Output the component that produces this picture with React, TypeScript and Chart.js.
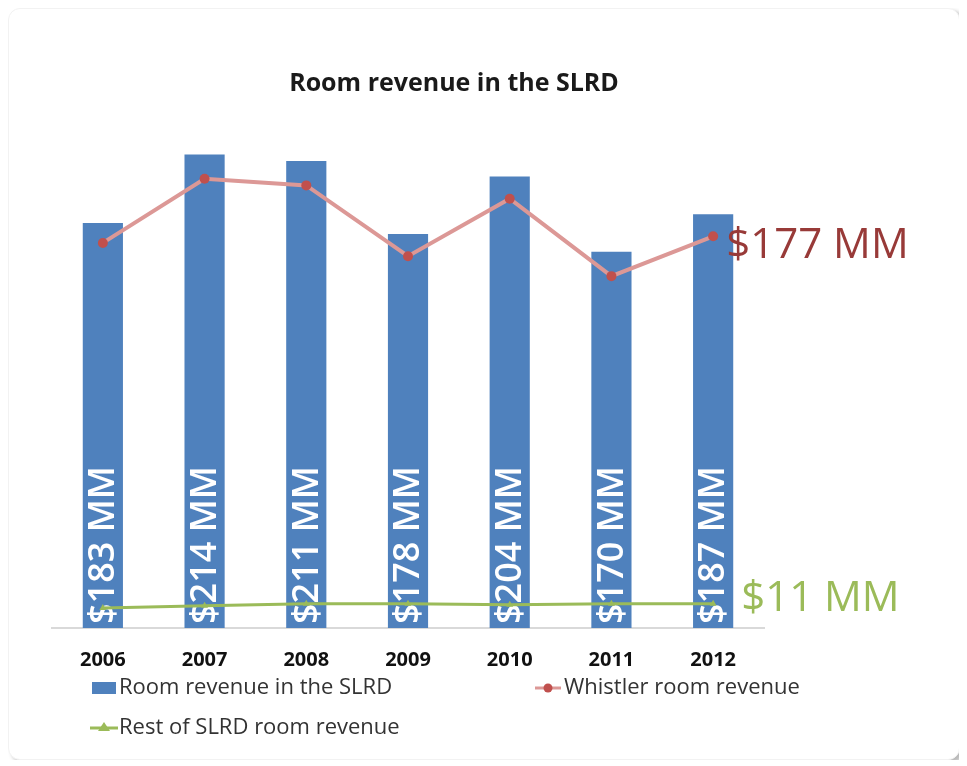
import { useEffect, useRef } from 'react';
import { Chart, registerables } from 'chart.js';

Chart.register(...registerables);

const categories = ['2006', '2007', '2008', '2009', '2010', '2011', '2012'];
const totalRevenue = [183, 214, 211, 178, 204, 170, 187];
const whistlerRevenue = [174, 203, 200, 168, 194, 159, 177];
const restRevenue = [9, 10, 11, 11, 10.5, 11, 11];
const seriesNames = ['Room revenue in the SLRD', 'Whistler room revenue', 'Rest of SLRD room revenue'];
const chartTitle = 'Room revenue in the SLRD';

const FONT = '"Open Sans", "DejaVu Sans", sans-serif';
const BLUE = '#4f81bd';
const RED_LINE = '#dc9896';
const RED_POINT = '#c0504d';
const RED_TEXT = '#983a38';
const GREEN = '#9bbb59';

const barLabelPlugin = {
  id: 'barLabels',
  afterDatasetDraw(chart: any, args: any) {
    if (args.index !== 0) return;
    const ctx = chart.ctx;
    const ds = chart.data.datasets[0];
    ctx.save();
    ctx.fillStyle = '#ffffff';
    ctx.font = `600 36px ${FONT}`;
    ctx.textAlign = 'left';
    ctx.textBaseline = 'middle';
    args.meta.data.forEach((bar: any, i: number) => {
      ctx.save();
      ctx.translate(bar.x + 1, bar.base - 4);
      ctx.rotate(-Math.PI / 2);
      ctx.fillText(`$${ds.data[i]} MM`, 0, 0);
      ctx.restore();
    });
    ctx.restore();
  },
};

const endLabelPlugin = {
  id: 'endLabels',
  afterDatasetsDraw(chart: any) {
    const ctx = chart.ctx;
    const items = [
      { index: 1, color: RED_TEXT, dx: 13, dy: 10 },
      { index: 2, color: GREEN, dx: 28, dy: -5 },
    ];
    ctx.save();
    ctx.font = `42px ${FONT}`;
    ctx.textAlign = 'left';
    ctx.textBaseline = 'middle';
    items.forEach((it) => {
      const meta = chart.getDatasetMeta(it.index);
      const data = chart.data.datasets[it.index].data;
      const last = meta.data[meta.data.length - 1];
      const v = Math.round(data[data.length - 1]);
      ctx.fillStyle = it.color;
      ctx.fillText(`$${v} MM`, last.x + it.dx, last.y + it.dy);
    });
    ctx.restore();
  },
};

const titleLegendPlugin = {
  id: 'titleLegend',
  afterDraw(chart: any) {
    const ctx = chart.ctx;
    ctx.save();
    ctx.fillStyle = '#1a1a1a';
    ctx.font = `bold 25px ${FONT}`;
    ctx.textAlign = 'center';
    ctx.textBaseline = 'middle';
    ctx.fillText(chartTitle, 446, 76);

    ctx.font = `22px ${FONT}`;
    ctx.textAlign = 'left';
    // item 1: bar box
    ctx.fillStyle = BLUE;
    ctx.fillRect(84, 674, 24, 12);
    ctx.fillStyle = '#333333';
    ctx.fillText(seriesNames[0], 111, 680);
    // item 2: red line with circle
    ctx.strokeStyle = RED_LINE;
    ctx.lineWidth = 3;
    ctx.beginPath();
    ctx.moveTo(527, 680);
    ctx.lineTo(553, 680);
    ctx.stroke();
    ctx.fillStyle = RED_POINT;
    ctx.beginPath();
    ctx.arc(540, 680, 4.5, 0, Math.PI * 2);
    ctx.fill();
    ctx.fillStyle = '#333333';
    ctx.fillText(seriesNames[1], 556, 680);
    // item 3: green line with triangle
    ctx.strokeStyle = GREEN;
    ctx.lineWidth = 3;
    ctx.beginPath();
    ctx.moveTo(82, 720);
    ctx.lineTo(110, 720);
    ctx.stroke();
    ctx.fillStyle = GREEN;
    ctx.beginPath();
    ctx.moveTo(96, 714);
    ctx.lineTo(102, 723);
    ctx.lineTo(90, 723);
    ctx.closePath();
    ctx.fill();
    ctx.fillStyle = '#333333';
    ctx.fillText(seriesNames[2], 111, 720);
    ctx.restore();
  },
};

export default function App() {
  const ref = useRef<HTMLCanvasElement | null>(null);

  useEffect(() => {
    if (!ref.current) return;
    const chart = new Chart(ref.current, {
      type: 'bar',
      data: {
        labels: categories,
        datasets: [
          {
            type: 'bar',
            label: seriesNames[0],
            data: totalRevenue,
            backgroundColor: BLUE,
            categoryPercentage: 1,
            barPercentage: 0.395,
            order: 3,
          } as any,
          {
            type: 'line',
            label: seriesNames[1],
            data: whistlerRevenue,
            borderColor: RED_LINE,
            borderWidth: 4,
            pointBackgroundColor: RED_POINT,
            pointBorderWidth: 0,
            pointRadius: 5,
            tension: 0,
            order: 1,
          } as any,
          {
            type: 'line',
            label: seriesNames[2],
            data: restRevenue,
            borderColor: GREEN,
            borderWidth: 3,
            pointStyle: 'triangle',
            pointBackgroundColor: GREEN,
            pointBorderWidth: 0,
            pointRadius: 4,
            tension: 0,
            order: 2,
          } as any,
        ],
      },
      options: {
        animation: false,
        responsive: false,
        devicePixelRatio: 1,
        layout: { padding: { left: 44, right: 196, top: 111, bottom: 68 } },
        plugins: {
          legend: { display: false },
          title: { display: false },
          tooltip: { enabled: false },
        },
        scales: {
          x: {
            grid: { display: false, drawTicks: false },
            border: { display: true, color: '#d9d9d9', width: 2 },
            ticks: {
              color: '#111111',
              font: { family: FONT, size: 20, weight: 'bold' },
              padding: 20,
            },
          },
          y: {
            display: false,
            min: 0,
            max: 230,
          },
        },
      },
      plugins: [barLabelPlugin, endLabelPlugin, titleLegendPlugin],
    });
    return () => chart.destroy();
  }, []);

  return (
    <div
      style={{
        position: 'relative',
        width: 952,
        height: 752,
        background: '#ffffff',
        borderRadius: 12,
        border: '1px solid #f2f2f2',
        boxSizing: 'border-box',
        boxShadow: '4px 3px 4px rgba(0,0,0,0.28)',
      }}
    >
      <canvas ref={ref} width={952} height={752} style={{ position: 'absolute', left: -1, top: -1 }} />
    </div>
  );
}
